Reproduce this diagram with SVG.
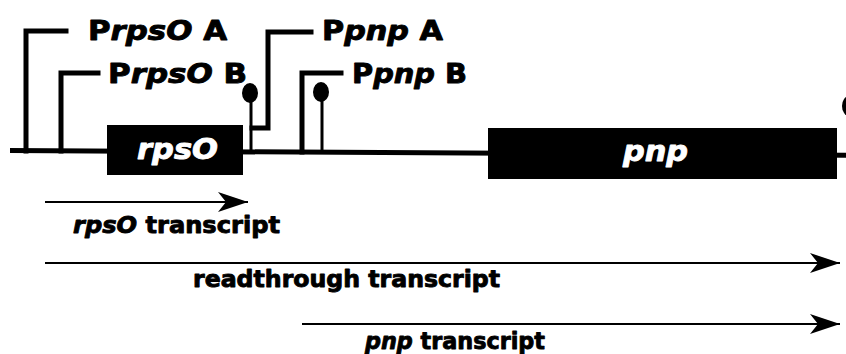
<svg xmlns="http://www.w3.org/2000/svg" width="846" height="354" viewBox="0 0 846 354">
<style>
.bb{stroke:#000;stroke-width:5;fill:none}
.prom{stroke:#000;stroke-width:5;fill:none;stroke-linejoin:miter;stroke-linecap:square}
.stem{stroke:#000;stroke-width:3;fill:none}
.ball{fill:#000}
.box{fill:#000}
.lbl{font-family:"DejaVu Sans","Liberation Sans",sans-serif;font-weight:bold;fill:#000;stroke:#000;stroke-width:0.9;stroke-linejoin:round}
.glbl{font-family:"DejaVu Sans","Liberation Sans",sans-serif;font-weight:bold;font-style:italic;fill:#fff;stroke:#fff;stroke-width:0.9;stroke-linejoin:round}
.it{font-style:italic}
.arr{stroke:#000;stroke-width:2;fill:none}
</style>
<defs>
<marker id="ah" markerUnits="userSpaceOnUse" markerWidth="32" markerHeight="22" refX="30" refY="10" orient="auto">
<path d="M30,10 L0,0 L8,10 L0,20 Z" fill="#000"/>
</marker>
</defs>
<g id="backbone">
<path class="bb" d="M10,150.5 L846,155.2"/>
</g>
<g id="promoter-rpsOA">
<path class="prom" d="M26,151 V31 H66"/>
<text class="lbl" x="88" y="40" font-size="27" textLength="139" lengthAdjust="spacingAndGlyphs">P<tspan class="it">rpsO</tspan> A</text>
</g>
<g id="promoter-rpsOB">
<path class="prom" d="M61,151 V73 H98"/>
<text class="lbl" x="108" y="83" font-size="27" textLength="139" lengthAdjust="spacingAndGlyphs">P<tspan class="it">rpsO</tspan> B</text>
</g>
<g id="terminator-1">
<path class="stem" d="M251,152 V100"/>
<ellipse class="ball" cx="250" cy="93" rx="8" ry="10"/>
</g>
<g id="promoter-pnpA">
<path class="prom" d="M252,128 H268 V32 H311"/>
<text class="lbl" x="322" y="40" font-size="27" textLength="121" lengthAdjust="spacingAndGlyphs">P<tspan class="it">pnp</tspan> A</text>
</g>
<g id="promoter-pnpB">
<path class="prom" d="M302,152 V73 H341"/>
<text class="lbl" x="352" y="83" font-size="27" textLength="115" lengthAdjust="spacingAndGlyphs">P<tspan class="it">pnp</tspan> B</text>
</g>
<g id="terminator-2">
<path class="stem" d="M322,153 V100"/>
<ellipse class="ball" cx="321" cy="92" rx="8" ry="10"/>
</g>
<g id="terminator-3">
<ellipse class="ball" cx="849" cy="106" rx="7" ry="10"/>
</g>
<g id="gene-rpsO">
<rect class="box" x="107" y="125" width="136" height="50"/>
<text class="glbl" x="137" y="159" font-size="29" textLength="81" lengthAdjust="spacingAndGlyphs">rpsO</text>
</g>
<g id="gene-pnp">
<rect class="box" x="488" y="128" width="349" height="51"/>
<text class="glbl" x="623" y="161" font-size="29" textLength="65" lengthAdjust="spacingAndGlyphs">pnp</text>
</g>
<g id="connectors">
<path class="arr" d="M45,202 H248" marker-end="url(#ah)"/>
<path class="arr" d="M45,263 H840" marker-end="url(#ah)"/>
<path class="arr" d="M302,324 H840" marker-end="url(#ah)"/>
</g>
<g id="labels">
<text class="lbl" x="73" y="233" font-size="23" textLength="207" lengthAdjust="spacingAndGlyphs"><tspan class="it">rpsO</tspan> transcript</text>
<text class="lbl" x="193" y="287" font-size="23" textLength="307" lengthAdjust="spacingAndGlyphs">readthrough transcript</text>
<text class="lbl" x="365" y="349" font-size="23" textLength="180" lengthAdjust="spacingAndGlyphs"><tspan class="it">pnp</tspan> transcript</text>
</g>
</svg>
